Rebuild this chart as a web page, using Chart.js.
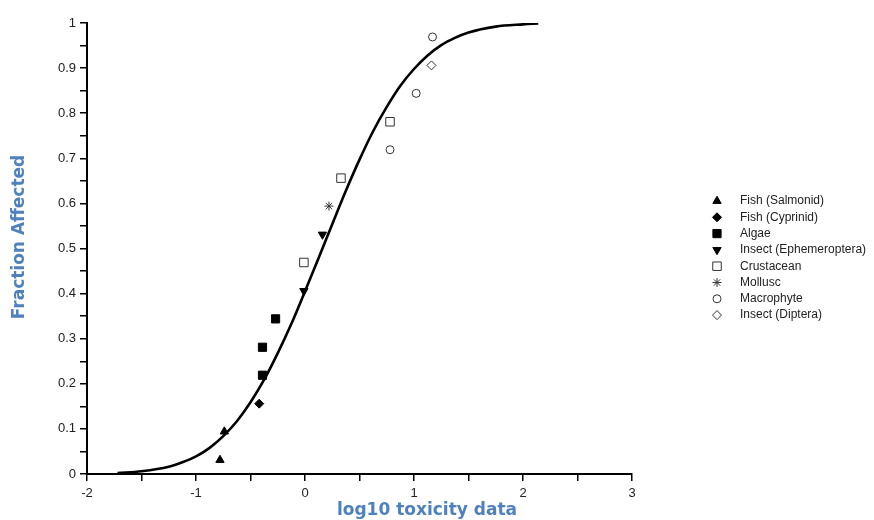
<!DOCTYPE html>
<html>
<head>
<meta charset="utf-8">
<script src="https://cdn.jsdelivr.net/npm/chart.js@4/dist/chart.umd.min.js"></script>
<style>
  html, body { margin: 0; padding: 0; background: #fff; }
  #wrap { width: 874px; height: 520px; }
</style>
</head>
<body>
<div id="wrap"><canvas id="ssdChart" width="874" height="520"></canvas></div>
<script>
// fitted curve
const curveX = [-1.72, -1.5, -1.25, -1.125, -1.0, -0.875, -0.75, -0.625, -0.5, -0.375, -0.25, -0.125, 0, 0.125, 0.25, 0.375, 0.5, 0.625, 0.75, 0.875, 1.0, 1.125, 1.25, 1.375, 1.5, 1.75, 2.0, 2.14];
const curveY = [0.002, 0.006, 0.016, 0.026, 0.039, 0.058, 0.084, 0.117, 0.159, 0.209, 0.268, 0.333, 0.405, 0.479, 0.554, 0.628, 0.697, 0.760, 0.814, 0.861, 0.898, 0.928, 0.951, 0.967, 0.979, 0.992, 0.997, 0.999];

// species points (log10 toxicity, fraction affected)
const salmonidX = [-0.78, -0.74];
const salmonidY = [0.031, 0.094];
const cyprinidX = [-0.42];
const cyprinidY = [0.156];
const algaeX = [-0.39, -0.39, -0.27];
const algaeY = [0.219, 0.281, 0.344];
const ephemeropteraX = [-0.01, 0.16];
const ephemeropteraY = [0.406, 0.531];
const crustaceanX = [-0.01, 0.33, 0.78];
const crustaceanY = [0.469, 0.656, 0.781];
const molluscX = [0.22];
const molluscY = [0.594];
const macrophyteX = [0.78, 1.02, 1.17];
const macrophyteY = [0.719, 0.844, 0.969];
const dipteraX = [1.16];
const dipteraY = [0.906];

const groupNames = ['Fish (Salmonid)', 'Fish (Cyprinid)', 'Algae', 'Insect (Ephemeroptera)', 'Crustacean', 'Mollusc', 'Macrophyte', 'Insect (Diptera)'];

const xTickValues = [-2, -1, 0, 1, 2, 3];
const yTickValues = [0, 0.1, 0.2, 0.3, 0.4, 0.5, 0.6, 0.7, 0.8, 0.9, 1];

const toPts = (xs, ys) => xs.map((x, i) => ({ x: x, y: ys[i] }));

const TITLE_BLUE = '#4f81bd';
const TEXT_COL = '#222';

// marker styles per group
function markerSet(name, xs, ys, style, radius, filled, rotation) {
    return {
        label: name,
        data: toPts(xs, ys),
        showLine: false,
        pointStyle: style,
        pointRadius: radius,
        pointRotation: rotation || 0,
        pointBackgroundColor: filled ? '#000' : 'rgba(0,0,0,0)',
        pointBorderColor: filled ? '#000' : '#333',
        pointBorderWidth: 1,
        isMarker: true,
        filled: filled
    };
}

const datasets = [
    {
        label: 'fit',
        data: toPts(curveX, curveY),
        showLine: true,
        borderColor: '#000',
        borderWidth: 2.6,
        pointRadius: 0,
        cubicInterpolationMode: 'monotone',
        fill: false
    },
    markerSet(groupNames[0], salmonidX, salmonidY, 'triangle', 4.8, true),
    markerSet(groupNames[1], cyprinidX, cyprinidY, 'rectRot', 4.5, true),
    markerSet(groupNames[2], algaeX, algaeY, 'rect', 5.8, true),
    markerSet(groupNames[3], ephemeropteraX, ephemeropteraY, 'triangle', 4.8, true, 180),
    markerSet(groupNames[4], crustaceanX, crustaceanY, 'rect', 6, false),
    markerSet(groupNames[5], molluscX, molluscY, 'star', 4.5, false),
    markerSet(groupNames[6], macrophyteX, macrophyteY, 'circle', 4, false),
    markerSet(groupNames[7], dipteraX, dipteraY, 'rectRot', 4.5, false)
];

// axis titles + legend drawn by hand so they sit where the original has them
const extrasPlugin = {
    id: 'extras',
    afterDraw(chart) {
        const ctx = chart.ctx;
        ctx.save();
        ctx.fillStyle = TITLE_BLUE;
        ctx.font = 'bold 17px "DejaVu Sans", Verdana, sans-serif';
        ctx.textAlign = 'center';
        ctx.textBaseline = 'alphabetic';
        ctx.fillText('log10 toxicity data', 427, 515);
        ctx.textBaseline = 'middle';
        ctx.translate(20, 237);
        ctx.rotate(-Math.PI / 2);
        ctx.fillText('Fraction Affected', 0, 0);
        ctx.restore();

        // legend
        ctx.save();
        ctx.font = '12px "Liberation Sans", Arial, sans-serif';
        ctx.textAlign = 'left';
        ctx.textBaseline = 'middle';
        let row = 0;
        chart.data.datasets.forEach(ds => {
            if (!ds.isMarker) return;
            const y = 201 + row * 16.3;
            ctx.fillStyle = ds.filled ? '#000' : '#fff';
            ctx.strokeStyle = ds.filled ? '#000' : '#333';
            ctx.lineWidth = 1;
            Chart.helpers.drawPoint(ctx, {
                pointStyle: ds.pointStyle,
                rotation: ds.pointRotation,
                radius: ds.pointRadius,
                borderWidth: 1
            }, 717, y);
            ctx.fillStyle = TEXT_COL;
            ctx.fillText(ds.label, 740, y);
            row++;
        });
        ctx.restore();
    }
};

const tickFont = { family: '"Liberation Sans", Arial, sans-serif', size: 13 };

new Chart(document.getElementById('ssdChart'), {
    type: 'scatter',
    data: { datasets: datasets },
    plugins: [extrasPlugin],
    options: {
        responsive: false,
        animation: false,
        layout: { padding: { top: 23, right: 242, bottom: 0, left: 0 } },
        plugins: {
            legend: { display: false },
            tooltip: { enabled: false }
        },
        scales: {
            x: {
                type: 'linear',
                min: -2,
                max: 3,
                afterFit: s => { s.height = 46; },
                ticks: {
                    stepSize: 0.5,
                    autoSkip: false,
                    maxRotation: 0,
                    padding: 5,
                    color: TEXT_COL,
                    font: tickFont,
                    callback: v => xTickValues.includes(v) ? String(v) : ''
                },
                grid: { display: true, drawOnChartArea: false, drawTicks: true, tickLength: 7, color: '#000', lineWidth: 1.5 },
                border: { display: true, color: '#000', width: 2 }
            },
            y: {
                type: 'linear',
                min: 0,
                max: 1,
                afterFit: s => { s.width = 87; },
                ticks: {
                    stepSize: 0.05,
                    autoSkip: false,
                    padding: 4,
                    color: TEXT_COL,
                    font: tickFont,
                    callback: v => {
                        const r = Math.round(v * 10) / 10;
                        return (Math.abs(v - r) < 1e-6 && yTickValues.includes(r)) ? String(r) : '';
                    }
                },
                grid: { display: true, drawOnChartArea: false, drawTicks: true, tickLength: 7, color: '#000', lineWidth: 1.5 },
                border: { display: true, color: '#000', width: 2 }
            }
        }
    }
});
</script>
</body>
</html>
